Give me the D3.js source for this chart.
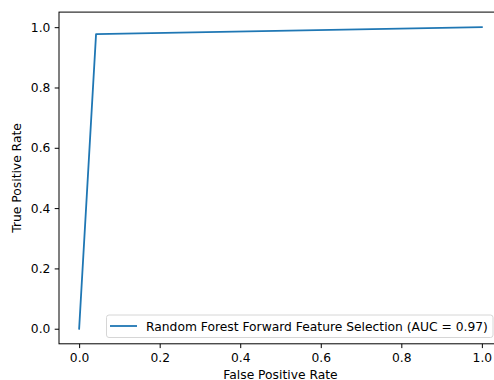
<!DOCTYPE html>
<html>
<head>
<meta charset="utf-8">
<script src="https://cdn.jsdelivr.net/npm/d3@7"></script>
<style>
  body { margin: 0; background: #fff; }
  svg { display: block; font-family: 'DejaVu Sans', sans-serif; }
</style>
</head>
<body>
<svg id="canvas"></svg>
<script>
'use strict';

// ROC curve points
var FPR = [0.0, 0.042, 1.0];
var TPR = [0.0, 0.977, 1.0];
var TICKS = [0.0, 0.2, 0.4, 0.6, 0.8, 1.0];
var LEGEND_LABEL = 'Random Forest Forward Feature Selection (AUC = 0.97)';
var X_LABEL = 'False Positive Rate';
var Y_LABEL = 'True Positive Rate';

var W = 494, H = 380;
var LEFT = 59, RIGHT = 502, TOP = 12.1, BOTTOM = 343.8;
var LINE_COLOR = '#1f77b4';
var FONT_SIZE = 12.3;

function RenderChart() {
  var svg = d3.select('#canvas')
      .attr('width', W)
      .attr('height', H);

  var x = d3.scaleLinear().domain([-0.05, 1.05]).range([LEFT, RIGHT]);
  var y = d3.scaleLinear().domain([-0.05, 1.05]).range([BOTTOM, TOP]);

  var points = FPR.map(function(f, i) { return [f, TPR[i]]; });

  svg.append('path')
      .datum(points)
      .attr('fill', 'none')
      .attr('stroke', LINE_COLOR)
      .attr('stroke-width', 1.8)
      .attr('stroke-linejoin', 'round')
      .attr('stroke-linecap', 'square')
      .attr('d', d3.line()
        .x(function(d) { return x(d[0]); })
        .y(function(d) { return y(d[1]); }));

  var xAxis = svg.append('g')
      .attr('transform', 'translate(0,' + BOTTOM + ')')
      .call(d3.axisBottom(x).tickValues(TICKS)
        .tickFormat(d3.format('.1f')).tickSize(4.3).tickPadding(5.5));
  var yAxis = svg.append('g')
      .attr('transform', 'translate(' + LEFT + ',0)')
      .call(d3.axisLeft(y).tickValues(TICKS)
        .tickFormat(d3.format('.1f')).tickSize(4.3).tickPadding(4.3));

  [xAxis, yAxis].forEach(function(a) {
    a.select('.domain').remove();
    a.selectAll('.tick line').attr('stroke', '#000').attr('stroke-width', 1);
    a.selectAll('.tick text')
      .attr('fill', '#000')
      .attr('font-size', FONT_SIZE)
      .attr('font-family', 'DejaVu Sans');
  });

  // spines
  svg.append('rect')
      .attr('x', LEFT)
      .attr('y', TOP)
      .attr('width', RIGHT - LEFT)
      .attr('height', BOTTOM - TOP)
      .attr('fill', 'none')
      .attr('stroke', '#000')
      .attr('stroke-width', 1);

  svg.append('text')
      .attr('x', (LEFT + RIGHT) / 2)
      .attr('y', 378.8)
      .attr('text-anchor', 'middle')
      .attr('font-size', FONT_SIZE)
      .text(X_LABEL);

  svg.append('text')
      .attr('transform', 'translate(21,' + (TOP + BOTTOM) / 2 + ') rotate(-90)')
      .attr('text-anchor', 'middle')
      .attr('font-size', FONT_SIZE)
      .text(Y_LABEL);

  // legend
  var legend = svg.append('g');
  legend.append('rect')
      .attr('x', 106.5)
      .attr('y', 315)
      .attr('width', 386.5)
      .attr('height', 22.5)
      .attr('rx', 2.5)
      .attr('fill', '#fff')
      .attr('fill-opacity', 0.8)
      .attr('stroke', '#d6d6d6')
      .attr('stroke-width', 1);
  legend.append('line')
      .attr('x1', 110)
      .attr('x2', 137)
      .attr('y1', 326)
      .attr('y2', 326)
      .attr('stroke', LINE_COLOR)
      .attr('stroke-width', 1.8);
  legend.append('text')
      .attr('x', 146)
      .attr('y', 330.6)
      .attr('font-size', FONT_SIZE)
      .text(LEGEND_LABEL);
}

RenderChart();
</script>
</body>
</html>
